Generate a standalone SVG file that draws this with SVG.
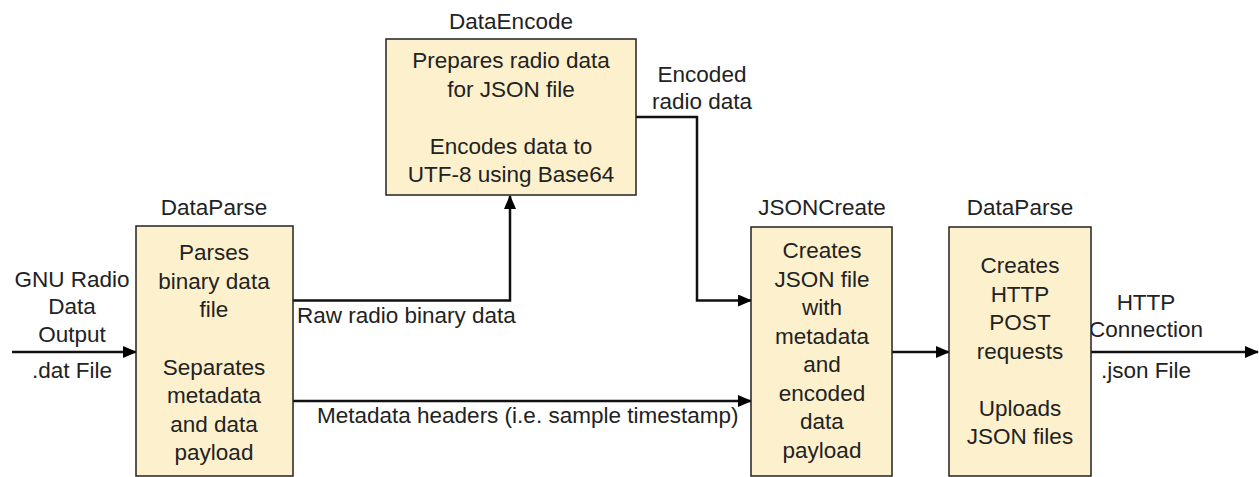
<svg xmlns="http://www.w3.org/2000/svg" width="1259" height="477" viewBox="0 0 1259 477">
  <defs>
    <marker id="arrow" markerWidth="14" markerHeight="12" refX="13" refY="6" orient="auto" markerUnits="userSpaceOnUse">
      <path d="M0,0 L14,6 L0,12 Z" fill="#000"/>
    </marker>
    <style>
      text { font-family: "Liberation Sans", Arial, sans-serif; font-size: 22.5px; fill: #222; }
      .c { text-anchor: middle; }
      .box { fill: #fdf1cd; stroke: #222; stroke-width: 1.5; }
      .edge { fill: none; stroke: #111; stroke-width: 2.5; marker-end: url(#arrow); }
    </style>
  </defs>
  <rect width="1259" height="477" fill="#fff"/>

  <!-- connectors -->
  <g id="connectors">
    <path class="edge" d="M12,352 H136"/>
    <path class="edge" d="M293,300.5 H510 V196"/>
    <path class="edge" d="M636,117 H697 V300.5 H751"/>
    <path class="edge" d="M293,401 H751"/>
    <path class="edge" d="M892,352 H949"/>
    <path class="edge" d="M1091,352 H1258"/>
    <text x="72" y="287" class="c">GNU Radio</text>
    <text x="72" y="314" class="c">Data</text>
    <text x="72" y="342" class="c">Output</text>
    <text x="72" y="378" class="c">.dat File</text>
    <text x="297" y="323">Raw radio binary data</text>
    <text x="702" y="82" class="c">Encoded</text>
    <text x="702" y="109" class="c">radio data</text>
    <text x="317" y="423">Metadata headers (i.e. sample timestamp)</text>
    <text x="1146" y="310" class="c">HTTP</text>
    <text x="1146" y="337" class="c">Connection</text>
    <text x="1146" y="378" class="c">.json File</text>
  </g>

  <!-- DataParse (input) -->
  <g id="dataparse-in">
    <text x="214" y="215" class="c">DataParse</text>
    <rect class="box" x="136" y="226" width="157" height="250"/>
    <text x="214" y="260" class="c">Parses</text>
    <text x="214" y="288.5" class="c">binary data</text>
    <text x="214" y="317" class="c">file</text>
    <text x="214" y="374.5" class="c">Separates</text>
    <text x="214" y="403" class="c">metadata</text>
    <text x="214" y="431.5" class="c">and data</text>
    <text x="214" y="460" class="c">payload</text>
  </g>

  <!-- DataEncode -->
  <g id="dataencode">
    <text x="511" y="29" class="c">DataEncode</text>
    <rect class="box" x="386" y="39" width="250" height="156"/>
    <text x="511" y="68" class="c">Prepares radio data</text>
    <text x="511" y="96.5" class="c">for JSON file</text>
    <text x="511" y="153.5" class="c">Encodes data to</text>
    <text x="511" y="182" class="c">UTF-8 using Base64</text>
  </g>

  <!-- JSONCreate -->
  <g id="jsoncreate">
    <text x="822" y="215" class="c">JSONCreate</text>
    <rect class="box" x="751" y="227" width="141" height="249"/>
    <text x="822" y="258" class="c">Creates</text>
    <text x="822" y="286.5" class="c">JSON file</text>
    <text x="822" y="315" class="c">with</text>
    <text x="822" y="343.5" class="c">metadata</text>
    <text x="822" y="372" class="c">and</text>
    <text x="822" y="400.5" class="c">encoded</text>
    <text x="822" y="429" class="c">data</text>
    <text x="822" y="457.5" class="c">payload</text>
  </g>

  <!-- DataParse (upload) -->
  <g id="dataparse-out">
    <text x="1020" y="215" class="c">DataParse</text>
    <rect class="box" x="949" y="227" width="142" height="249"/>
    <text x="1020" y="273" class="c">Creates</text>
    <text x="1020" y="301.5" class="c">HTTP</text>
    <text x="1020" y="330" class="c">POST</text>
    <text x="1020" y="358.5" class="c">requests</text>
    <text x="1020" y="415.5" class="c">Uploads</text>
    <text x="1020" y="444" class="c">JSON files</text>
  </g>
</svg>
